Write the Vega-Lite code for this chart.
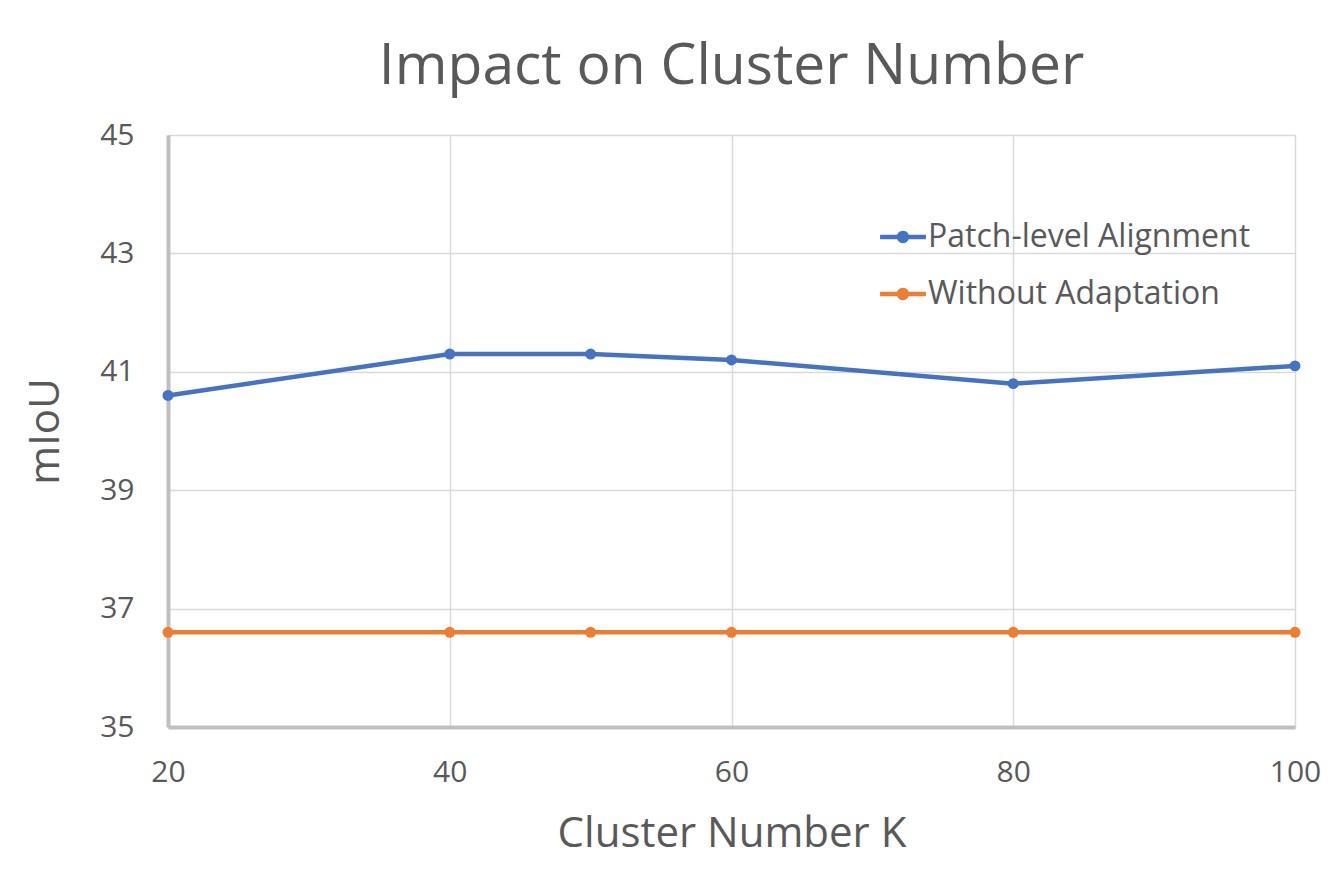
{
  "$schema": "https://vega.github.io/schema/vega-lite/v6.json",
  "width": 1127,
  "height": 592,
  "autosize": {"type": "none"},
  "padding": {"left": 168, "top": 135, "right": 40, "bottom": 162},
  "background": "white",
  "title": {
    "text": "Impact on Cluster Number",
    "font": "Open Sans",
    "fontSize": 57,
    "fontWeight": "normal",
    "color": "#595959",
    "anchor": "middle",
    "offset": 24
  },
  "config": {
    "view": {"stroke": null},
    "font": "Open Sans",
    "axis": {
      "labelFont": "Open Sans",
      "labelColor": "#595959",
      "labelFontSize": 30,
      "labelFlush": false,
      "labelOverlap": false,
      "titleFont": "Open Sans",
      "titleColor": "#595959",
      "titleFontSize": 42,
      "titleFontWeight": "normal",
      "ticks": false,
      "gridColor": "#d9d9d9",
      "gridWidth": 1.5,
      "domainColor": "#bfbfbf",
      "domainWidth": 4
    },
    "legend": {
      "labelFont": "Open Sans",
      "labelColor": "#595959",
      "labelFontSize": 32,
      "labelLimit": 0
    }
  },
  "data": {
    "values": [
      {"k": 20, "miou": 40.6, "series": "Patch-level Alignment"},
      {"k": 40, "miou": 41.3, "series": "Patch-level Alignment"},
      {"k": 50, "miou": 41.3, "series": "Patch-level Alignment"},
      {"k": 60, "miou": 41.2, "series": "Patch-level Alignment"},
      {"k": 80, "miou": 40.8, "series": "Patch-level Alignment"},
      {"k": 100, "miou": 41.1, "series": "Patch-level Alignment"},
      {"k": 20, "miou": 36.6, "series": "Without Adaptation"},
      {"k": 40, "miou": 36.6, "series": "Without Adaptation"},
      {"k": 50, "miou": 36.6, "series": "Without Adaptation"},
      {"k": 60, "miou": 36.6, "series": "Without Adaptation"},
      {"k": 80, "miou": 36.6, "series": "Without Adaptation"},
      {"k": 100, "miou": 36.6, "series": "Without Adaptation"}
    ]
  },
  "encoding": {
    "x": {
      "field": "k",
      "type": "quantitative",
      "scale": {"domain": [20, 100], "nice": false, "zero": false},
      "axis": {
        "title": "Cluster Number K",
        "values": [20, 40, 60, 80, 100],
        "labelPadding": 30,
        "titlePadding": 26
      }
    },
    "y": {
      "field": "miou",
      "type": "quantitative",
      "scale": {"domain": [35, 45], "nice": false, "zero": false},
      "axis": {
        "title": "mIoU",
        "values": [35, 37, 39, 41, 43, 45],
        "labelPadding": 34,
        "titlePadding": 32
      }
    },
    "color": {
      "field": "series",
      "type": "nominal",
      "scale": {
        "domain": ["Patch-level Alignment", "Without Adaptation"],
        "range": ["#4472C4", "#ED7D31"]
      },
      "legend": {
        "title": null,
        "orient": "none",
        "legendX": 712,
        "legendY": 79,
        "rowPadding": 18,
        "symbolType": "M -1 -0.1 L 1 -0.1 L 1 0.1 L -1 0.1 Z M 0.27 0 A 0.27 0.27 0 1 1 -0.27 0 A 0.27 0.27 0 1 1 0.27 0 Z",
        "symbolSize": 2100,
        "symbolStrokeWidth": 0,
        "symbolOpacity": 1,
        "labelOffset": 2
      }
    }
  },
  "layer": [
    {"mark": {"type": "line", "strokeWidth": 4.5}},
    {"mark": {"type": "point", "filled": true, "size": 120, "opacity": 1}}
  ]
}
